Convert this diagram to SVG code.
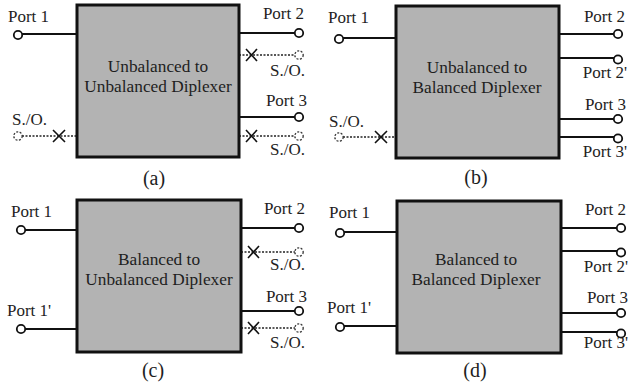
<svg xmlns="http://www.w3.org/2000/svg" width="630" height="387" viewBox="0 0 630 387">
  <style>
    text { font-family: 'Liberation Serif', 'Tinos', 'DejaVu Serif', serif; fill: #1e1e1e; }
    .box { fill: #b3b3b3; stroke: #111; stroke-width: 3; }
    .lbl { font-size: 17px; }
    .title { font-size: 17.3px; text-anchor: middle; }
    .cap { font-size: 20px; text-anchor: middle; }
    .wire { stroke: #111; stroke-width: 2; fill: none; }
    .dash { stroke: #222; stroke-width: 1.5; stroke-dasharray: 2 1.5; fill: none; }
    .port { fill: #fff; stroke: #111; stroke-width: 1.8; }
    .open { fill: #fff; stroke: #333; stroke-width: 1.3; stroke-dasharray: 2 1.5; }
    .x { stroke: #111; stroke-width: 1.6; fill: none; }
  </style>
  <rect width="630" height="387" fill="#fff"/>

  <!-- connectors: port wires, short/open stubs -->
  <g id="connectors">
    <!-- (a) -->
    <path class="wire" d="M22 34H77M239 33H295M239 117H295"/>
    <path class="dash" d="M22 136H77M239 55H295M239 136H295"/>
    <!-- (b) -->
    <path class="wire" d="M343 38H396M559 34H614M559 58H614M559 119H614M559 137H614"/>
    <path class="dash" d="M343 137H396"/>
    <!-- (c) -->
    <path class="wire" d="M25 230H77M241 228H295M241 311H295M25 329H77"/>
    <path class="dash" d="M241 252H295M241 328H295"/>
    <!-- (d) -->
    <path class="wire" d="M344 232H397M561 228H617M561 251H617M561 313H617M561 332H617M344 326H397"/>
  </g>

  <!-- (a) Unbalanced to Unbalanced -->
  <g id="diplexer-a">
    <rect class="box" x="77" y="5" width="162" height="152"/>
    <text class="title" x="158" y="72">Unbalanced to</text>
    <text class="title" x="158" y="92">Unbalanced Diplexer</text>
  </g>
  <g id="a-port1">
    <circle class="port" cx="18" cy="35" r="4.2"/>
    <text class="lbl" x="8" y="22">Port 1</text>
  </g>
  <g id="a-so-left">
    <circle class="open" cx="18" cy="136" r="4.2"/>
    <path class="x" d="M53 130L65 142M65 130L53 142"/>
    <text class="lbl" x="12" y="125">S./O.</text>
  </g>
  <g id="a-port2">
    <circle class="port" cx="299" cy="33" r="4.2"/>
    <text class="lbl" x="304" y="19" text-anchor="end">Port 2</text>
  </g>
  <g id="a-so-2">
    <circle class="open" cx="299" cy="55" r="4.2"/>
    <path class="x" d="M246 49L257 61M257 49L246 61"/>
    <text class="lbl" x="305" y="76" text-anchor="end">S./O.</text>
  </g>
  <g id="a-port3">
    <circle class="port" cx="299" cy="117" r="4.2"/>
    <text class="lbl" x="307" y="106" text-anchor="end">Port 3</text>
  </g>
  <g id="a-so-3">
    <circle class="open" cx="299" cy="136" r="4.2"/>
    <path class="x" d="M246 130L257 142M257 130L246 142"/>
    <text class="lbl" x="305" y="155" text-anchor="end">S./O.</text>
  </g>
  <text class="cap" x="154" y="185">(a)</text>

  <!-- (b) Unbalanced to Balanced -->
  <g id="diplexer-b">
    <rect class="box" x="396" y="6" width="163" height="152"/>
    <text class="title" x="477" y="73">Unbalanced to</text>
    <text class="title" x="477" y="93">Balanced Diplexer</text>
  </g>
  <g id="b-port1">
    <circle class="port" cx="339" cy="39" r="4.2"/>
    <text class="lbl" x="328" y="23">Port 1</text>
  </g>
  <g id="b-so-left">
    <circle class="open" cx="339" cy="137" r="4.2"/>
    <path class="x" d="M375 131L387 143M387 131L375 143"/>
    <text class="lbl" x="329" y="127">S./O.</text>
  </g>
  <g id="b-port2">
    <circle class="port" cx="618" cy="34" r="4.2"/>
    <text class="lbl" x="625" y="22" text-anchor="end">Port 2</text>
  </g>
  <g id="b-port2n">
    <circle class="port" cx="618" cy="59.5" r="4.2"/>
    <text class="lbl" x="627" y="78" text-anchor="end">Port 2'</text>
  </g>
  <g id="b-port3">
    <circle class="port" cx="618" cy="119" r="4.2"/>
    <text class="lbl" x="626" y="110" text-anchor="end">Port 3</text>
  </g>
  <g id="b-port3n">
    <circle class="port" cx="618" cy="138.5" r="4.2"/>
    <text class="lbl" x="627" y="157" text-anchor="end">Port 3'</text>
  </g>
  <text class="cap" x="476" y="184">(b)</text>

  <!-- (c) Balanced to Unbalanced -->
  <g id="diplexer-c">
    <rect class="box" x="77" y="200" width="164" height="152"/>
    <text class="title" x="159" y="265">Balanced to</text>
    <text class="title" x="159" y="285">Unbalanced Diplexer</text>
  </g>
  <g id="c-port1">
    <circle class="port" cx="21" cy="230" r="4.2"/>
    <text class="lbl" x="11" y="217">Port 1</text>
  </g>
  <g id="c-port1n">
    <circle class="port" cx="21" cy="329" r="4.2"/>
    <text class="lbl" x="7" y="316">Port 1'</text>
  </g>
  <g id="c-port2">
    <circle class="port" cx="299" cy="228" r="4.2"/>
    <text class="lbl" x="305" y="214" text-anchor="end">Port 2</text>
  </g>
  <g id="c-so-2">
    <circle class="open" cx="299" cy="252" r="4.2"/>
    <path class="x" d="M248 246L259 258M259 246L248 258"/>
    <text class="lbl" x="305" y="270" text-anchor="end">S./O.</text>
  </g>
  <g id="c-port3">
    <circle class="port" cx="299" cy="311" r="4.2"/>
    <text class="lbl" x="307" y="302" text-anchor="end">Port 3</text>
  </g>
  <g id="c-so-3">
    <circle class="open" cx="299" cy="328" r="4.2"/>
    <path class="x" d="M248 322L259 334M259 322L248 334"/>
    <text class="lbl" x="305" y="348" text-anchor="end">S./O.</text>
  </g>
  <text class="cap" x="153" y="377">(c)</text>

  <!-- (d) Balanced to Balanced -->
  <g id="diplexer-d">
    <rect class="box" x="397" y="201" width="164" height="152"/>
    <text class="title" x="476" y="265">Balanced to</text>
    <text class="title" x="476" y="285">Balanced Diplexer</text>
  </g>
  <g id="d-port1">
    <circle class="port" cx="340" cy="233" r="4.2"/>
    <text class="lbl" x="329" y="218">Port 1</text>
  </g>
  <g id="d-port1n">
    <circle class="port" cx="340" cy="327" r="4.2"/>
    <text class="lbl" x="327" y="313">Port 1'</text>
  </g>
  <g id="d-port2">
    <circle class="port" cx="621" cy="228" r="4.2"/>
    <text class="lbl" x="626" y="215" text-anchor="end">Port 2</text>
  </g>
  <g id="d-port2n">
    <circle class="port" cx="621" cy="252.5" r="4.2"/>
    <text class="lbl" x="628" y="272" text-anchor="end">Port 2'</text>
  </g>
  <g id="d-port3">
    <circle class="port" cx="621" cy="313" r="4.2"/>
    <text class="lbl" x="628" y="303" text-anchor="end">Port 3</text>
  </g>
  <g id="d-port3n">
    <circle class="port" cx="621" cy="333.5" r="4.2"/>
    <text class="lbl" x="628" y="348" text-anchor="end">Port 3'</text>
  </g>
  <text class="cap" x="475" y="377">(d)</text>
</svg>
